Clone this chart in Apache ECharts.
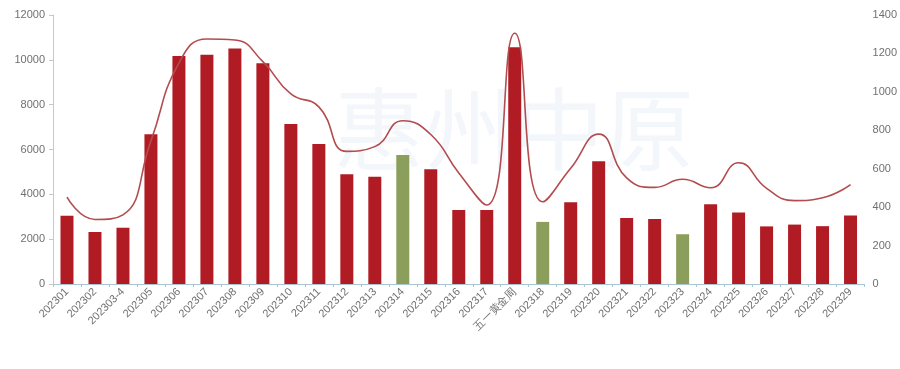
<!DOCTYPE html>
<html>
<head>
<meta charset="utf-8">
<script src="https://cdn.jsdelivr.net/npm/echarts@6/dist/echarts.min.js"></script>
<style>html,body{margin:0;padding:0;background:#fff;}#c{width:900px;height:369px;}</style>
</head>
<body>
<div id="c"></div>
<script>
var categories = ['202301','202302','202303-4','202305','202306','202307','202308','202309','202310','202311','202312','202313','202314','202315','202316','202317','五一黄金周','202318','202319','202320','202321','202322','202323','202324','202325','202326','202327','202328','202329'];
var barValues = [3040,2320,2510,6680,10170,10230,10510,9850,7140,6250,4900,4780,5750,5120,3300,3300,10560,2770,3650,5480,2940,2900,2220,3560,3190,2570,2650,2580,3060];
var lineValues = [452,336,360,745,1150,1275,1270,1157,989,922,690,715,850,778,578,411,1305,428,602,780,552,503,545,501,631,498,434,449,517];
var greenCategories = ['202314','202318','202323'];
var leftTicks = [0,2000,4000,6000,8000,10000,12000];
var rightTicks = [0,200,400,600,800,1000,1200,1400];

var RED = '#B11C24', GREEN = '#8C9E5C';
var chart = echarts.init(document.getElementById('c'));
chart.setOption({
  animation: false,
  graphic: [{
    type: 'text', left: 334, top: 84, z: 0,
    style: { text: '惠州中原', fontSize: 90, fontWeight: 'normal', fill: '#F3F7FB', fontFamily: 'Noto Sans CJK SC' }
  }],
  grid: { left: 53, right: 30, top: 15, bottom: 85 },
  xAxis: {
    type: 'category', data: categories,
    axisLine: { lineStyle: { color: '#A9C6D2', width: 1 } },
    axisTick: { show: true, length: 3, lineStyle: { color: '#A9C6D2' } },
    axisLabel: { rotate: 45, color: '#707070', fontSize: 11, fontFamily: 'Liberation Sans', margin: 6 }
  },
  yAxis: [{
    type: 'value', min: leftTicks[0], max: leftTicks[leftTicks.length-1], interval: 2000,
    axisLine: { show: true, lineStyle: { color: '#C8C8C8' } },
    axisTick: { show: true, length: 4, lineStyle: { color: '#C8C8C8' } },
    splitLine: { show: false },
    axisLabel: { color: '#707070', fontSize: 11, fontFamily: 'Liberation Sans', margin: 8, formatter: function (v) { return String(v); } }
  }, {
    type: 'value', min: rightTicks[0], max: rightTicks[rightTicks.length-1], interval: 200,
    axisLine: { show: false }, axisTick: { show: false }, splitLine: { show: false },
    axisLabel: { color: '#707070', fontSize: 11, fontFamily: 'Liberation Sans', margin: 8, formatter: function (v) { return String(v); } }
  }],
  series: [{
    type: 'bar', yAxisIndex: 0, barWidth: 13,
    data: barValues.map(function (v, i) {
      return { value: v, itemStyle: { color: greenCategories.indexOf(categories[i]) >= 0 ? GREEN : RED } };
    })
  }, {
    type: 'line', yAxisIndex: 1, smooth: 0.5, symbol: 'none',
    lineStyle: { color: '#B34C4E', width: 1.6 },
    data: lineValues, z: 3
  }]
});
</script>
</body>
</html>
